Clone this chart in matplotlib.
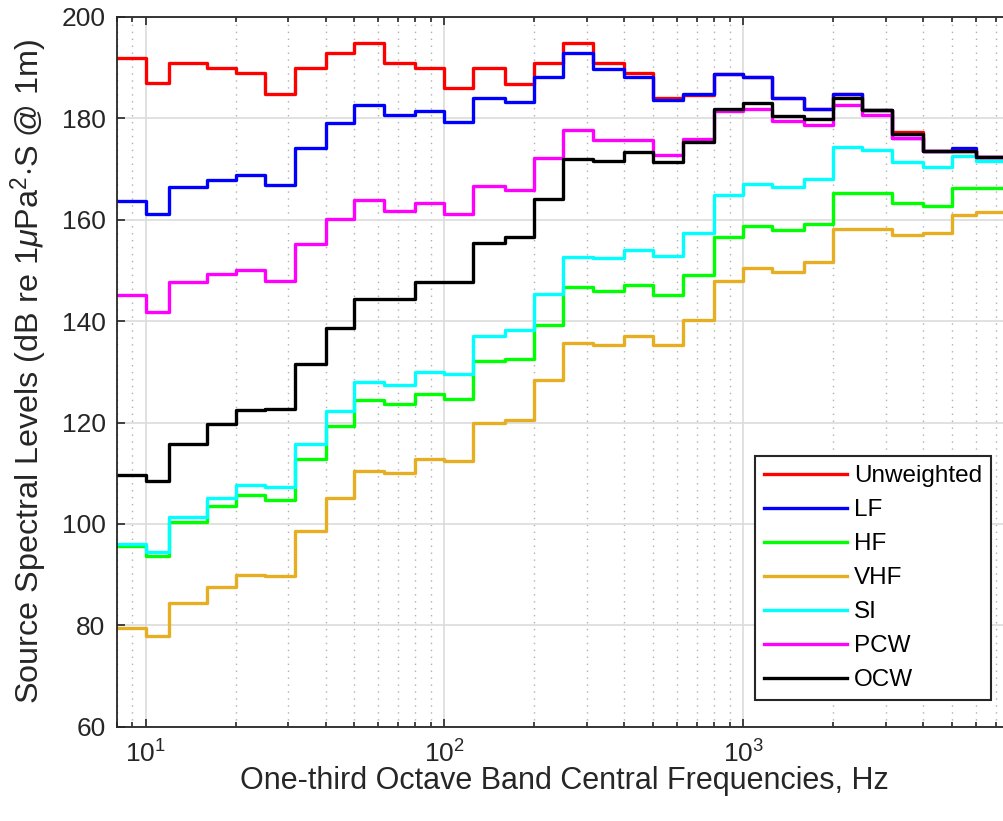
import matplotlib
matplotlib.use('Agg')
import matplotlib.pyplot as plt
from matplotlib.ticker import LogLocator, NullFormatter

plt.rcParams['font.family'] = ['Liberation Sans', 'DejaVu Sans']
plt.rcParams['mathtext.fontset'] = 'custom'
plt.rcParams['mathtext.rm'] = 'Liberation Sans'
plt.rcParams['mathtext.it'] = 'Liberation Sans:italic'

# band centre frequencies (as plotted)
freq = [8, 10, 12, 16, 20, 25, 31.5, 40, 50, 63, 80, 100, 125, 160, 200, 250, 315,
        400, 500, 630, 800, 1000, 1250, 1600, 2000, 2500, 3150, 4000, 5000, 6000, 8000]

unweighted = [192.0, 186.9, 190.9, 190.0, 188.9, 184.8, 190.0, 192.9, 194.9, 190.9, 190.0,
              186.0, 189.9, 186.8, 190.9, 194.9, 190.9, 188.9, 184.0, 184.7, 188.7, 188.1,
              184.0, 181.9, 184.8, 181.6, 177.4, 173.6, 173.6, 172.3, 172.3]
lf = [163.8, 161.2, 166.4, 167.9, 168.9, 166.9, 174.2, 179.0, 182.6, 180.7, 181.5,
      179.2, 184.0, 183.2, 188.1, 192.9, 189.7, 188.2, 183.6, 184.8, 188.7, 188.1,
      184.0, 181.9, 184.8, 181.6, 176.2, 173.6, 174.2, 172.3, 172.3]
hf = [95.6, 93.6, 100.4, 103.5, 105.7, 104.7, 112.9, 119.3, 124.4, 123.7, 125.6,
      124.7, 132.1, 132.6, 139.3, 146.8, 146.0, 147.2, 145.2, 149.2, 156.6, 158.7,
      157.9, 159.2, 165.2, 165.2, 163.3, 162.8, 166.2, 166.2, 166.2]
vhf = [79.4, 77.9, 84.4, 87.6, 90.0, 89.7, 98.6, 105.1, 110.4, 110.0, 112.9,
       112.5, 119.9, 120.6, 128.3, 135.7, 135.2, 137.0, 135.2, 140.3, 148.0, 150.5,
       149.6, 151.6, 158.2, 158.2, 156.9, 157.3, 161.0, 161.5, 161.5]
si = [96.1, 94.5, 101.4, 105.1, 107.6, 107.2, 115.8, 122.2, 128.0, 127.5, 130.0,
      129.6, 137.0, 138.2, 145.3, 152.7, 152.5, 154.1, 152.9, 157.3, 164.8, 167.1,
      166.4, 168.1, 174.3, 173.7, 171.4, 170.5, 172.6, 171.6, 171.6]
pcw = [145.1, 141.9, 147.8, 149.4, 150.0, 147.9, 155.3, 160.2, 163.9, 161.8, 163.3,
       161.2, 166.7, 165.9, 172.1, 177.7, 175.7, 175.7, 172.8, 175.9, 181.4, 181.9,
       179.4, 178.6, 182.7, 180.7, 176.2, 173.6, 173.6, 172.3, 172.3]
ocw = [109.6, 108.4, 115.8, 119.8, 122.4, 122.6, 131.6, 138.6, 144.3, 144.3, 147.7,
       147.7, 155.4, 156.7, 164.1, 172.0, 171.5, 173.3, 171.3, 175.3, 181.9, 183.0,
       180.5, 179.9, 184.0, 181.6, 176.9, 173.6, 173.6, 172.3, 172.3]

series = [('Unweighted', unweighted, '#ff0000'),
          ('LF', lf, '#0000ff'),
          ('HF', hf, '#00ff00'),
          ('VHF', vhf, '#e6ae22'),
          ('SI', si, '#00ffff'),
          ('PCW', pcw, '#ff00ff'),
          ('OCW', ocw, '#000000')]

fig = plt.figure(figsize=(10.04, 8.21), dpi=100)
# axes run a little past the right edge of the picture, as in the original crop
ax = fig.add_axes([116.7 / 1004, 94.3 / 821, (1013 - 116.7) / 1004, 709.7 / 821])

for name, vals, col in series:
    ax.step(freq, vals, where='post', color=col, lw=2.4, label=name)

ax.set_xscale('log')
ax.set_xlim(8, 8000)
ax.set_ylim(60, 200)
ax.set_yticks(range(60, 201, 20))
ax.xaxis.set_minor_locator(LogLocator(base=10, subs=range(2, 10)))
ax.xaxis.set_minor_formatter(NullFormatter())

ax.grid(True, which='major', color='#dcdcdc', lw=1.2, ls='-')
ax.grid(True, which='minor', axis='x', color='#b0b0b0', lw=1.0, ls=(0, (1, 4)))
ax.set_axisbelow(True)

for s in ax.spines.values():
    s.set_color('#262626')
    s.set_linewidth(1.3)
ax.tick_params(which='both', direction='in', top=True, right=True, colors='#262626',
               labelsize=19, width=1.2)
ax.tick_params(which='major', length=6)
ax.tick_params(which='minor', length=3.5)
ax.tick_params(axis='x', pad=10)
ax.tick_params(axis='y', pad=8)

ax.set_xlabel('One-third Octave Band Central Frequencies, Hz', fontsize=22, color='#262626',
              labelpad=-1)
ax.set_ylabel('Source Spectral Levels (dB re 1$\\mu$Pa$^2$$\\cdot$S @ 1m)', fontsize=23.3,
              color='#262626', labelpad=8)

leg = ax.legend(loc='lower right', bbox_to_anchor=(0.9754, 0.0376), borderaxespad=0,
                fontsize=17.5, fancybox=False, edgecolor='#262626', framealpha=1,
                handlelength=3.4, labelspacing=0.49, borderpad=0.37, handletextpad=0.3)
leg.get_frame().set_linewidth(1.5)

fig.savefig('out.png', dpi=100)
